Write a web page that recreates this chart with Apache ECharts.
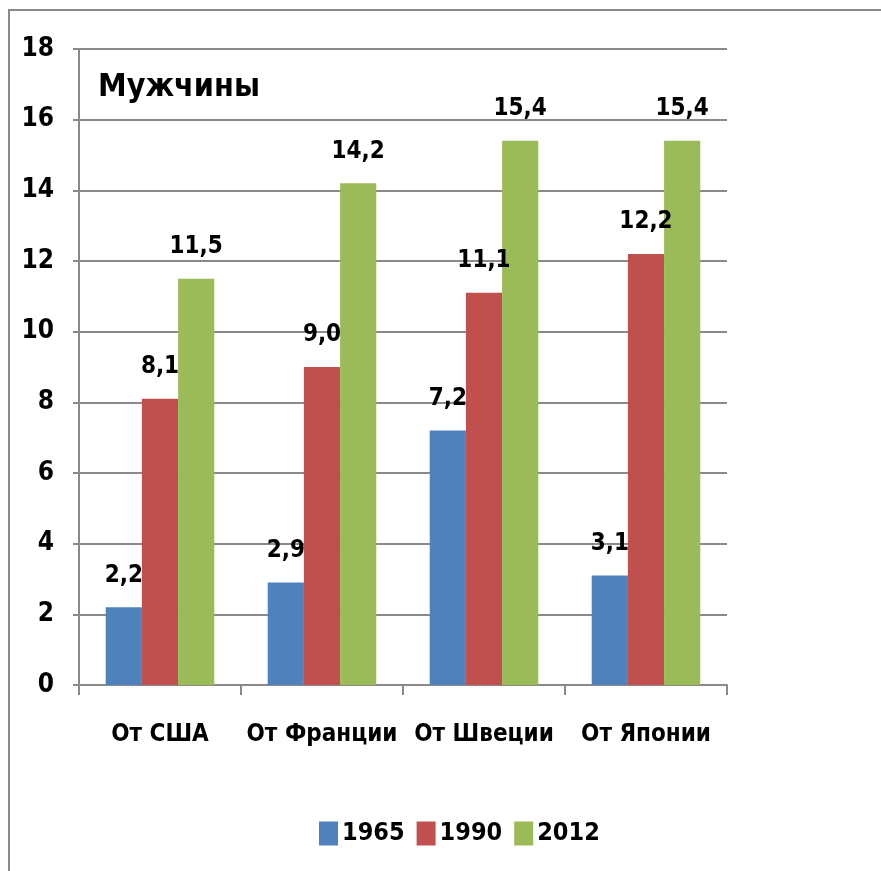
<!DOCTYPE html>
<html><head><meta charset="utf-8">
<script src="https://cdn.jsdelivr.net/npm/echarts@6/dist/echarts.min.js"></script>
<style>html,body{margin:0;padding:0;background:#fff}#c{width:881px;height:871px}</style>
</head><body><div id="c"></div>
<script>
const categories = ['От США', 'От Франции', 'От Швеции', 'От Японии'];
const years = ['1965', '1990', '2012'];
const v1965 = [2.2, 2.9, 7.2, 3.1];
const v1990 = [8.1, 9.0, 11.1, 12.2];
const v2012 = [11.5, 14.2, 15.4, 15.4];
const colors = ['#4F81BD', '#C0504D', '#9BBB59'];
const FONT = '"DejaVu Sans Condensed", "Liberation Sans Narrow", sans-serif';

const chart = echarts.init(document.getElementById('c'));
const lbl = {
  show: true, position: 'top', distance: 20,
  fontFamily: FONT, fontWeight: 'bold', fontSize: 24, color: '#000',
  formatter: p => p.value.toFixed(1).replace('.', ',')
};
const mk = (name, data, i) => ({
  name, type: 'bar', data, barGap: '0%', barCategoryGap: '33%',
  itemStyle: { color: colors[i] }, label: lbl
});
chart.setOption({
  animation: false,
  graphic: [{ type: 'rect', shape: { x: 9, y: 10, width: 900, height: 900 },
    style: { fill: 'none', stroke: '#8a8a8a', lineWidth: 2 } }],
  title: { text: 'Мужчины', left: 98, top: 72, padding: 0,
    textStyle: { fontFamily: FONT, fontWeight: 'bold', fontSize: 32, color: '#000' } },
  legend: { data: years, left: 319, top: 821, padding: 0, itemWidth: 19, itemHeight: 24, itemGap: 12,
    icon: 'rect',
    textStyle: { fontFamily: FONT, fontWeight: 'bold', fontSize: 25, color: '#000', padding: [0,0,0,-1] } },
  grid: { left: 79, right: 154, top: 49, bottom: 186 },
  xAxis: { type: 'category', data: categories,
    axisLine: { lineStyle: { color: '#8a8a8a', width: 2 } },
    axisTick: { show: true, length: 10, lineStyle: { color: '#8a8a8a', width: 2 } },
    axisLabel: { interval: 0, margin: 38, fontFamily: FONT, fontWeight: 'bold', fontSize: 24, color: '#000' } },
  yAxis: { type: 'value', min: 0, max: 18, interval: 2,
    axisLine: { show: true, lineStyle: { color: '#8a8a8a', width: 2 } },
    axisTick: { show: true, length: 6, lineStyle: { color: '#8a8a8a', width: 2 } },
    splitLine: { lineStyle: { color: '#8a8a8a', width: 2 } },
    axisLabel: { margin: 25, fontFamily: FONT, fontWeight: 'bold', fontSize: 26, color: '#000' } },
  series: [mk(years[0], v1965, 0), mk(years[1], v1990, 1), mk(years[2], v2012, 2)]
});
</script></body></html>
